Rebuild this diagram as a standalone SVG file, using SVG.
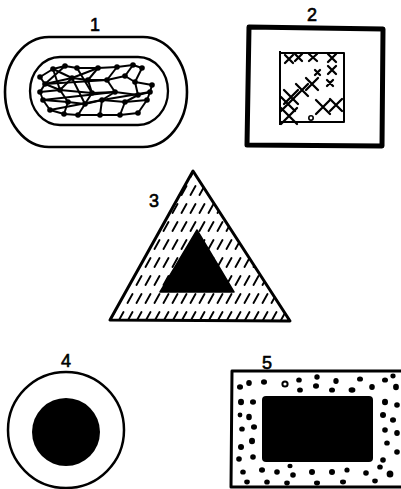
<svg xmlns="http://www.w3.org/2000/svg" width="401" height="489" viewBox="0 0 401 489">
<style>
.lbl{font-family:"Liberation Sans",Arial,sans-serif;font-size:18px;fill:#000;stroke:#000;stroke-width:0.6;text-anchor:middle}
.ol{fill:none;stroke:#000;stroke-linejoin:round}
.net line{stroke:#000;stroke-width:2}
.net circle{fill:#000}
.x path{stroke:#000;stroke-width:2.3;fill:none;stroke-linecap:round}
.dots ellipse{fill:#000}
</style>
<defs>
<pattern id="hatch" patternUnits="userSpaceOnUse" width="9" height="18">
<line x1="1.5" y1="15" x2="6.5" y2="6" stroke="#000" stroke-width="1.9" stroke-linecap="round"/>
</pattern>
</defs>
<rect width="401" height="489" fill="#fff"/>

<g id="fig1">
<text class="lbl" x="95" y="31">1</text>
<rect class="ol" x="5" y="37" width="182" height="110" rx="44" ry="55" stroke-width="2.6"/>
<rect class="ol" x="30" y="57" width="138" height="68" rx="30" ry="34" stroke-width="2.3"/>
<g class="net">
<line x1="40" y1="77" x2="53" y2="69"/><line x1="53" y1="69" x2="65" y2="66"/><line x1="65" y1="66" x2="77" y2="68"/>
<line x1="77" y1="68" x2="98" y2="68"/><line x1="98" y1="68" x2="117" y2="67"/><line x1="117" y1="67" x2="133" y2="65"/>
<line x1="133" y1="65" x2="142" y2="68"/><line x1="40" y1="77" x2="45" y2="84"/><line x1="53" y1="69" x2="72" y2="78"/>
<line x1="45" y1="84" x2="72" y2="78"/><line x1="72" y1="78" x2="88" y2="80"/><line x1="88" y1="80" x2="98" y2="68"/>
<line x1="88" y1="80" x2="107" y2="80"/><line x1="107" y1="80" x2="117" y2="67"/><line x1="107" y1="80" x2="125" y2="76"/>
<line x1="125" y1="76" x2="133" y2="65"/><line x1="125" y1="76" x2="135" y2="82"/><line x1="135" y1="82" x2="142" y2="68"/>
<line x1="135" y1="82" x2="152" y2="85"/><line x1="45" y1="84" x2="40" y2="92"/><line x1="45" y1="84" x2="60" y2="90"/>
<line x1="40" y1="92" x2="60" y2="90"/><line x1="60" y1="90" x2="72" y2="78"/><line x1="60" y1="90" x2="92" y2="93"/>
<line x1="92" y1="93" x2="88" y2="80"/><line x1="92" y1="93" x2="115" y2="92"/><line x1="115" y1="92" x2="107" y2="80"/>
<line x1="115" y1="92" x2="138" y2="95"/><line x1="138" y1="95" x2="135" y2="82"/><line x1="138" y1="95" x2="150" y2="92"/>
<line x1="150" y1="92" x2="152" y2="85"/><line x1="40" y1="92" x2="43" y2="100"/><line x1="43" y1="100" x2="68" y2="102"/>
<line x1="68" y1="102" x2="60" y2="90"/><line x1="68" y1="102" x2="85" y2="104"/><line x1="85" y1="104" x2="92" y2="93"/>
<line x1="85" y1="104" x2="102" y2="100"/><line x1="102" y1="100" x2="115" y2="92"/><line x1="102" y1="100" x2="125" y2="102"/>
<line x1="125" y1="102" x2="138" y2="95"/><line x1="125" y1="102" x2="147" y2="100"/><line x1="147" y1="100" x2="150" y2="92"/>
<line x1="43" y1="100" x2="50" y2="110"/><line x1="50" y1="110" x2="64" y2="114"/><line x1="64" y1="114" x2="68" y2="102"/>
<line x1="64" y1="114" x2="78" y2="115"/><line x1="78" y1="115" x2="85" y2="104"/><line x1="78" y1="115" x2="100" y2="115"/>
<line x1="100" y1="115" x2="102" y2="100"/><line x1="100" y1="115" x2="120" y2="115"/><line x1="120" y1="115" x2="125" y2="102"/>
<line x1="120" y1="115" x2="138" y2="113"/><line x1="138" y1="113" x2="147" y2="100"/>
<line x1="53" y1="69" x2="60" y2="90"/><line x1="77" y1="68" x2="92" y2="93"/><line x1="72" y1="78" x2="85" y2="104"/>
<line x1="50" y1="110" x2="102" y2="100"/><line x1="43" y1="100" x2="115" y2="92"/><line x1="45" y1="84" x2="107" y2="80"/>
<line x1="102" y1="100" x2="150" y2="92"/><line x1="65" y1="66" x2="45" y2="84"/><line x1="98" y1="68" x2="72" y2="78"/>
<circle cx="40" cy="77" r="2.8"/><circle cx="53" cy="69" r="2.8"/><circle cx="65" cy="66" r="2.8"/><circle cx="77" cy="68" r="2.8"/>
<circle cx="98" cy="68" r="2.8"/><circle cx="117" cy="67" r="2.8"/><circle cx="133" cy="65" r="2.8"/><circle cx="142" cy="68" r="2.8"/>
<circle cx="45" cy="84" r="2.8"/><circle cx="72" cy="78" r="2.8"/><circle cx="88" cy="80" r="2.8"/><circle cx="107" cy="80" r="2.8"/>
<circle cx="125" cy="76" r="2.8"/><circle cx="135" cy="82" r="2.8"/><circle cx="152" cy="85" r="2.8"/><circle cx="40" cy="92" r="2.8"/>
<circle cx="60" cy="90" r="2.8"/><circle cx="92" cy="93" r="2.8"/><circle cx="115" cy="92" r="2.8"/><circle cx="138" cy="95" r="2.8"/>
<circle cx="150" cy="92" r="2.8"/><circle cx="43" cy="100" r="2.8"/><circle cx="68" cy="102" r="2.8"/><circle cx="85" cy="104" r="2.8"/>
<circle cx="102" cy="100" r="2.8"/><circle cx="125" cy="102" r="2.8"/><circle cx="147" cy="100" r="2.8"/><circle cx="50" cy="110" r="2.8"/>
<circle cx="64" cy="114" r="2.8"/><circle cx="78" cy="115" r="2.8"/><circle cx="100" cy="115" r="2.8"/><circle cx="120" cy="115" r="2.8"/>
<circle cx="138" cy="113" r="2.8"/>
</g>
</g>

<g id="fig2">
<text class="lbl" x="312" y="21">2</text>
<polygon class="ol" points="249,27 383,29 382,146 247,145" stroke-width="5"/>
<path class="ol" d="M280,51 L280,125 M280,53 L344,53 L344,122 L280,122" stroke-width="2"/>
<g class="x">
<path d="M285,55 l8,8 M293,55 l-8,8"/><path d="M295,54 l7,7 M302,54 l-7,7"/><path d="M309,54 l8,7 M317,54 l-8,7"/>
<path d="M328,54 l8,8 M336,54 l-8,8"/><path d="M315,70 l5,5 M320,70 l-5,5"/><path d="M328,66 l8,8 M336,66 l-8,8"/>
<path d="M327,80 l6,6 M333,80 l-6,6"/><path d="M306,78 l12,12 M318,78 l-12,12"/><path d="M296,84 l12,12 M308,84 l-12,12"/>
<path d="M284,90 l14,14 M298,90 l-14,14"/><path d="M281,97 l14,14 M295,97 l-14,14"/><path d="M281,108 l16,16 M297,108 l-16,16"/>
<path d="M316,100 l14,14 M330,100 l-14,14"/><path d="M330,99 l12,12 M342,99 l-12,12"/>
<circle cx="311" cy="118" r="2.2" fill="none" stroke="#000" stroke-width="1.6"/>
</g>
</g>

<g id="fig3">
<text class="lbl" x="154" y="207">3</text>
<path d="M193,171 L110,320 L290,321 Z M197,230 L160,292 L234,292 Z" fill="url(#hatch)" fill-rule="evenodd"/>
<polygon class="ol" points="193,171 110,320 290,321" stroke-width="3"/>
<polygon points="197,230 160,292 234,292" fill="#000" stroke="#000" stroke-width="1.5" stroke-linejoin="round"/>
</g>

<g id="fig4">
<text class="lbl" x="66" y="367">4</text>
<circle class="ol" cx="66" cy="430" r="58" stroke-width="2.5"/>
<circle cx="66" cy="432" r="34" fill="#000"/>
</g>

<g id="fig5">
<text class="lbl" x="267" y="369">5</text>
<path class="ol" d="M401,371 L232,371 L231,487 L401,487" stroke-width="3"/>
<rect x="262" y="396" width="111" height="66" rx="4" fill="#000"/>
<g class="dots" transform="translate(0,0)">
<ellipse cx="240" cy="387" rx="3" ry="2.7"/><ellipse cx="249" cy="383" rx="2.8" ry="3"/><ellipse cx="264" cy="382" rx="3" ry="2.7"/>
<circle cx="285" cy="384" r="2.6" fill="none" stroke="#000" stroke-width="2"/>
<ellipse cx="299" cy="380" rx="2.8" ry="2.6"/><ellipse cx="300" cy="390" rx="2.9" ry="2.6"/><ellipse cx="317" cy="377" rx="2.7" ry="2.7"/>
<ellipse cx="316" cy="386" rx="3" ry="2.7"/><ellipse cx="336" cy="381" rx="2.7" ry="2.9"/><ellipse cx="332" cy="390" rx="3" ry="2.6"/>
<ellipse cx="352" cy="390" rx="3.4" ry="2.8"/><ellipse cx="360" cy="379" rx="3" ry="2.6"/><ellipse cx="372" cy="387" rx="2.8" ry="3"/>
<ellipse cx="385" cy="380" rx="3" ry="2.6"/><ellipse cx="396" cy="387" rx="2.9" ry="3.2"/><ellipse cx="393" cy="376" rx="2.6" ry="2.4"/>
<ellipse cx="241" cy="402" rx="3" ry="3.2"/><ellipse cx="253" cy="402" rx="3" ry="2.8"/><ellipse cx="240" cy="415" rx="2.4" ry="2.4"/>
<ellipse cx="249" cy="417" rx="2.8" ry="3.2"/><ellipse cx="242" cy="429" rx="2.8" ry="2.6"/><ellipse cx="254" cy="427" rx="3" ry="2.8"/>
<ellipse cx="241" cy="447" rx="3" ry="3"/><ellipse cx="252" cy="441" rx="3" ry="3.2"/><ellipse cx="239" cy="459" rx="2.8" ry="2.8"/>
<ellipse cx="253" cy="457" rx="2.8" ry="2.8"/><ellipse cx="243" cy="472" rx="2.8" ry="2.6"/><ellipse cx="262" cy="470" rx="3" ry="2.8"/>
<ellipse cx="277" cy="472" rx="2.8" ry="2.8"/><ellipse cx="290" cy="466" rx="2.6" ry="2.2"/><ellipse cx="293" cy="475" rx="2.8" ry="2.8"/>
<ellipse cx="312" cy="472" rx="3" ry="3"/><ellipse cx="332" cy="472" rx="3" ry="3"/><ellipse cx="347" cy="470" rx="2.6" ry="2.6"/>
<ellipse cx="366" cy="473" rx="2.8" ry="2.8"/><ellipse cx="380" cy="467" rx="2.8" ry="2.6"/><ellipse cx="390" cy="474" rx="3.4" ry="3.6"/>
<ellipse cx="247" cy="482" rx="2.8" ry="2.4"/><ellipse cx="267" cy="482" rx="2.8" ry="2.6"/><ellipse cx="287" cy="483" rx="2.8" ry="2.4"/>
<ellipse cx="317" cy="483" rx="3" ry="2.4"/><ellipse cx="343" cy="482" rx="3" ry="2.4"/><ellipse cx="375" cy="481" rx="2.8" ry="2.4"/>
<ellipse cx="385" cy="402" rx="3" ry="3.2"/><ellipse cx="397" cy="405" rx="2.8" ry="2.8"/><ellipse cx="383" cy="415" rx="3" ry="3"/>
<ellipse cx="393" cy="420" rx="3" ry="2.8"/><ellipse cx="385" cy="430" rx="2.8" ry="2.8"/><ellipse cx="397" cy="433" rx="2.8" ry="3"/>
<ellipse cx="387" cy="443" rx="2.8" ry="2.6"/><ellipse cx="397" cy="452" rx="2.8" ry="2.8"/><ellipse cx="383" cy="460" rx="2.8" ry="2.8"/>
</g>
</g>
</svg>
